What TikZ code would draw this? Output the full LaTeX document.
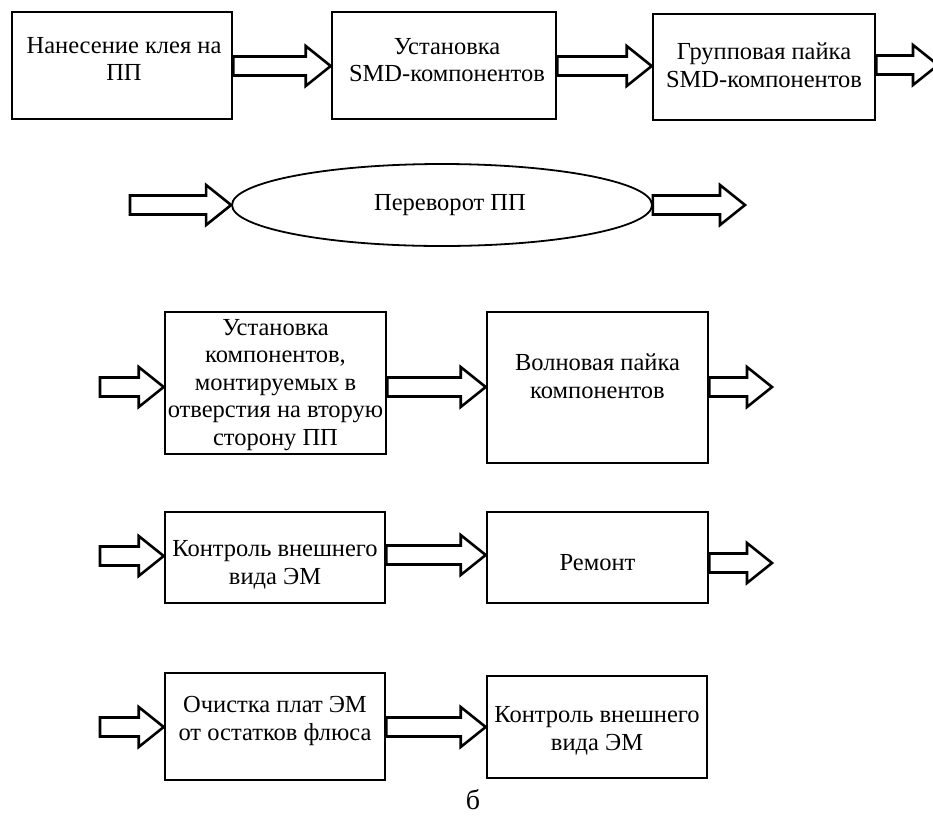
\documentclass[tikz,border=0pt]{standalone}
\usepackage{fontspec}
\setmainfont{Liberation Serif}
\usetikzlibrary{calc,shapes.geometric}

\tikzset{
  stage/.style={draw, line width=2.6pt, fill=white, inner sep=0pt, line join=miter},
  oval/.style={draw, ellipse, line width=1.8pt, inner sep=0pt, minimum width=420pt, minimum height=82pt},
  label/.style={align=center, inner sep=0pt, font=\fontsize{24.5}{27.5}\selectfont},
  fatline/.style={draw, line width=2.6pt, line join=miter, fill=white},
}
% hollow block arrow from point #1 to tip #2 (horizontal)
\newcommand\fatarrow[2]{%
  \draw[fatline] ($(#1)+(0,-9.5)$) -- ($(#2)+(-25,-9.5)$) -- ($(#2)+(-25,-20)$) -- (#2)
    -- ($(#2)+(-25,20)$) -- ($(#2)+(-25,9.5)$) -- ($(#1)+(0,9.5)$) -- cycle;}

\begin{document}
\begin{tikzpicture}[x=1pt,y=-1pt]
\useasboundingbox (0,0) rectangle (933,823);

% ---- row 1: SMD side
\node[stage, minimum width=220pt, minimum height=107pt] (b1) at (122,65.5) {};
\node[label] (t1) at (124,59) {Нанесение клея на\\ПП};
\node[stage, minimum width=224pt, minimum height=107pt] (b2) at (444,65.5) {};
\node[label] (t2) at (447,60) {Установка\\SMD-компонентов};
\node[stage, minimum width=222pt, minimum height=106pt] (b3) at (764,67) {};
\node[label] (t3) at (764,65) {Групповая пайка\\SMD-компонентов};

\coordinate (a1s) at (b1.east |- 0,66);  \coordinate (a1e) at (b2.west |- 0,66);
\coordinate (a2s) at (b2.east |- 0,66);  \coordinate (a2e) at (b3.west |- 0,66);
\coordinate (a3s) at (b3.east |- 0,65);  \coordinate (a3e) at (938,65);
\fatarrow{a1s}{a1e}
\fatarrow{a2s}{a2e}
\fatarrow{a3s}{a3e}

% ---- row 2: board flip
\node[oval] (flip) at (442,205) {};
\node[label] (tf) at (450,205) {Переворот ПП};
\coordinate (f1s) at (130,205);  \coordinate (f1e) at (flip.west);
\coordinate (f2s) at (flip.east); \coordinate (f2e) at (745,205);
\fatarrow{f1s}{f1e}
\fatarrow{f2s}{f2e}

% ---- row 3: through-hole side
\node[stage, minimum width=221pt, minimum height=142pt] (b4) at (275.5,383) {};
\node[label] (t4) at (275.5,385) {Установка\\компонентов,\\монтируемых в\\отверстия на вторую\\сторону ПП};
\node[stage, minimum width=221pt, minimum height=151pt] (b5) at (597.5,387.5) {};
\node[label] (t5) at (597.5,376) {Волновая пайка\\компонентов};

\coordinate (r3in) at (100,387);
\coordinate (c4w) at (b4.west |- 0,387);
\coordinate (c4e) at (b4.east |- 0,387);  \coordinate (c5w) at (b5.west |- 0,387);
\coordinate (c5e) at (b5.east |- 0,387);  \coordinate (r3out) at (772,387);
\fatarrow{r3in}{c4w}
\fatarrow{c4e}{c5w}
\fatarrow{c5e}{r3out}

% ---- row 4: inspection and repair
\node[stage, minimum width=220pt, minimum height=91pt] (b6) at (275,557.5) {};
\node[label] (t6) at (275,565) {Контроль внешнего\\вида ЭМ};
\node[stage, minimum width=221pt, minimum height=91pt] (b7) at (597.5,557.5) {};
\node[label] (t7) at (597.5,563) {Ремонт};

\coordinate (r4in) at (100,556);
\coordinate (c6w) at (b6.west |- 0,556);
\coordinate (c6e) at (b6.east |- 0,555);  \coordinate (c7w) at (b7.west |- 0,555);
\coordinate (c7e) at (b7.east |- 0,563);  \coordinate (r4out) at (772,563);
\fatarrow{r4in}{c6w}
\fatarrow{c6e}{c7w}
\fatarrow{c7e}{r4out}

% ---- row 5: cleaning and final inspection
\node[stage, minimum width=220pt, minimum height=107pt] (b8) at (275,726.5) {};
\node[label] (t8) at (275,721) {Очистка плат ЭМ\\от остатков флюса};
\node[stage, minimum width=220pt, minimum height=102pt] (b9) at (597,727) {};
\node[label] (t9) at (597,731) {Контроль внешнего\\вида ЭМ};

\coordinate (r5in) at (100,727);
\coordinate (c8w) at (b8.west |- 0,727);
\coordinate (c8e) at (b8.east |- 0,727);  \coordinate (c9w) at (b9.west |- 0,727);
\fatarrow{r5in}{c8w}
\fatarrow{c8e}{c9w}

% caption
\node[label, font=\fontsize{28}{32}\selectfont] (cap) at (473,800) {б};
\end{tikzpicture}
\end{document}
